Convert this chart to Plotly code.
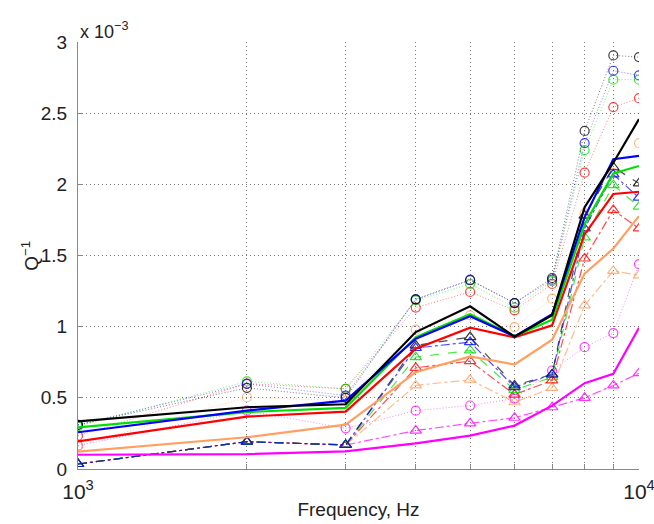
import plotly.graph_objects as go

# Frequencies (Hz)
freq = [1000, 2000, 3000, 4000, 5000, 6000, 7000, 8000, 9000, 10000]

# Q^-1 values in units of 1e-3
# solid lines (no markers)
black_solid   = [0.335, 0.434, 0.455, 0.962, 1.143, 0.930, 1.080, 1.840, 2.152, 2.458]
blue_solid    = [0.258, 0.410, 0.480, 0.915, 1.073, 0.932, 1.087, 1.770, 2.176, 2.200]
green_solid   = [0.293, 0.400, 0.430, 0.927, 1.087, 0.932, 1.049, 1.720, 2.077, 2.129]
red_solid     = [0.194, 0.368, 0.403, 0.845, 0.993, 0.925, 1.009, 1.650, 1.932, 1.948]
orange_solid  = [0.122, 0.223, 0.312, 0.680, 0.791, 0.734, 0.908, 1.373, 1.549, 1.777]
magenta_solid = [0.100, 0.105, 0.124, 0.180, 0.235, 0.305, 0.445, 0.603, 0.669, 0.993]

# dotted lines with circles
black_circ    = [0.310, 0.570, 0.500, 1.192, 1.326, 1.166, 1.342, 2.375, 2.906, 2.894]
blue_circ     = [0.310, 0.598, 0.516, 1.192, 1.330, 1.166, 1.330, 2.289, 2.798, 2.765]
green_circ    = [0.300, 0.615, 0.563, 1.185, 1.300, 1.134, 1.320, 2.241, 2.735, 2.735]
red_circ      = [0.234, 0.600, 0.563, 1.134, 1.244, 1.115, 1.300, 2.082, 2.542, 2.605]
orange_circ   = [0.164, 0.504, 0.480, 0.979, 1.080, 0.997, 1.197, 1.796, 2.080, 2.289]
magenta_circ  = [0.164, 0.410, 0.286, 0.410, 0.446, 0.495, 0.692, 0.856, 0.955, 1.439]

# dashed lines with triangles
black_tri     = [0.035, 0.192, 0.169, 0.868, 0.927, 0.587, 0.664, 1.780, 2.120, 2.007]
blue_tri      = [0.035, 0.192, 0.169, 0.850, 0.892, 0.575, 0.664, 1.690, 2.070, 1.906]
green_tri     = [0.035, 0.192, 0.169, 0.786, 0.833, 0.556, 0.645, 1.627, 1.995, 1.843]
red_tri       = [0.035, 0.192, 0.169, 0.711, 0.758, 0.523, 0.622, 1.479, 1.819, 1.690]
orange_tri    = [0.035, 0.192, 0.169, 0.587, 0.627, 0.469, 0.570, 1.150, 1.392, 1.361]
magenta_tri   = [0.035, 0.192, 0.169, 0.270, 0.321, 0.360, 0.434, 0.500, 0.587, 0.673]

x_tick_vals = [1000, 2000, 3000, 4000, 5000, 6000, 7000, 8000, 9000, 10000]
x_tick_text = ["10<sup>3</sup>", "", "", "", "", "", "", "", "", "10<sup>4</sup>"]
y_tick_vals = [0, 0.5, 1, 1.5, 2, 2.5, 3]
y_tick_text = ["0", "0.5", "1", "1.5", "2", "2.5", "3"]

rgb = {
    "black": (0, 0, 0),
    "blue": (0, 0, 255),
    "green": (0, 224, 0),
    "red": (255, 0, 0),
    "orange": (255, 160, 96),
    "magenta": (255, 0, 255),
}


def col(name, a=1.0):
    r, g, b = rgb[name]
    return f"rgba({r},{g},{b},{a})"


circ_series = [("magenta", magenta_circ), ("orange", orange_circ), ("red", red_circ),
               ("green", green_circ), ("blue", blue_circ), ("black", black_circ)]
tri_series = [("magenta", magenta_tri, "dashdot"), ("orange", orange_tri, "dashdot"),
              ("red", red_tri, "dashdot"), ("black", black_tri, "dash"),
              ("green", green_tri, "dash"), ("blue", blue_tri, "dashdot")]
solid_series = [("magenta", magenta_solid), ("orange", orange_solid), ("red", red_solid),
                ("green", green_solid), ("blue", blue_solid), ("black", black_solid)]

fig = go.Figure()

for name, vals in circ_series:
    fig.add_trace(go.Scatter(
        x=freq, y=vals, mode="lines+markers",
        line=dict(color=col(name, 0.5), width=1, dash="1px,2px"),
        marker=dict(symbol="circle-open", size=9, color=col(name, 0.75), line=dict(width=1.2)),
        showlegend=False))

for name, vals, dash in tri_series:
    fig.add_trace(go.Scatter(
        x=freq, y=vals, mode="lines+markers",
        line=dict(color=col(name, 0.7), width=1.2, dash=dash),
        marker=dict(symbol="triangle-up-open", size=10, color=col(name, 0.8), line=dict(width=1.2)),
        showlegend=False))

for name, vals in solid_series:
    fig.add_trace(go.Scatter(
        x=freq, y=vals, mode="lines",
        line=dict(color=col(name), width=2.2),
        showlegend=False))

font_family = "Liberation Sans, Arial, Helvetica, sans-serif"

fig.update_layout(
    width=654, height=524,
    margin=dict(l=78, r=15, t=42, b=55, autoexpand=False),
    paper_bgcolor="white", plot_bgcolor="white",
    font=dict(family=font_family, size=18, color="#222222"),
    showlegend=False,
    xaxis=dict(
        type="log", range=[3, 4], automargin=False,
        tickmode="array", tickvals=x_tick_vals, ticktext=x_tick_text,
        ticks="inside", ticklen=5, tickcolor="#888888",
        showgrid=True, gridcolor="#777777", griddash="1px,3px", gridwidth=1,
        showline=True, linecolor="#888888", linewidth=1.2,
        zeroline=False,
        ticklabelstandoff=4, ticklabeloverflow="allow",
        title=dict(text="Frequency, Hz", font=dict(size=19), standoff=0),
        tickfont=dict(size=21),
    ),
    yaxis=dict(
        range=[0, 3], automargin=False,
        tickmode="array", tickvals=y_tick_vals, ticktext=y_tick_text,
        ticks="inside", ticklen=5, tickcolor="#888888",
        showgrid=True, gridcolor="#777777", griddash="1px,3px", gridwidth=1,
        showline=True, linecolor="#888888", linewidth=1.2,
        zeroline=False,
        ticklabelstandoff=6, ticklabeloverflow="allow",
        tickfont=dict(size=19),
    ),
    annotations=[
        dict(text="x 10<sup>−3</sup>", xref="paper", yref="paper",
             x=0.0, y=1.0, xanchor="left", yanchor="bottom", yshift=-2,
             showarrow=False, font=dict(size=18, color="#222222")),
        dict(text="Q<sup>−1</sup>", xref="paper", yref="paper",
             x=-0.087, y=0.5, xanchor="center", yanchor="middle", textangle=-90,
             showarrow=False, font=dict(size=19, color="#222222")),
    ],
)

fig.write_html("out.html", post_script="document.body.style.margin='0';",
               config={"displayModeBar": False})
